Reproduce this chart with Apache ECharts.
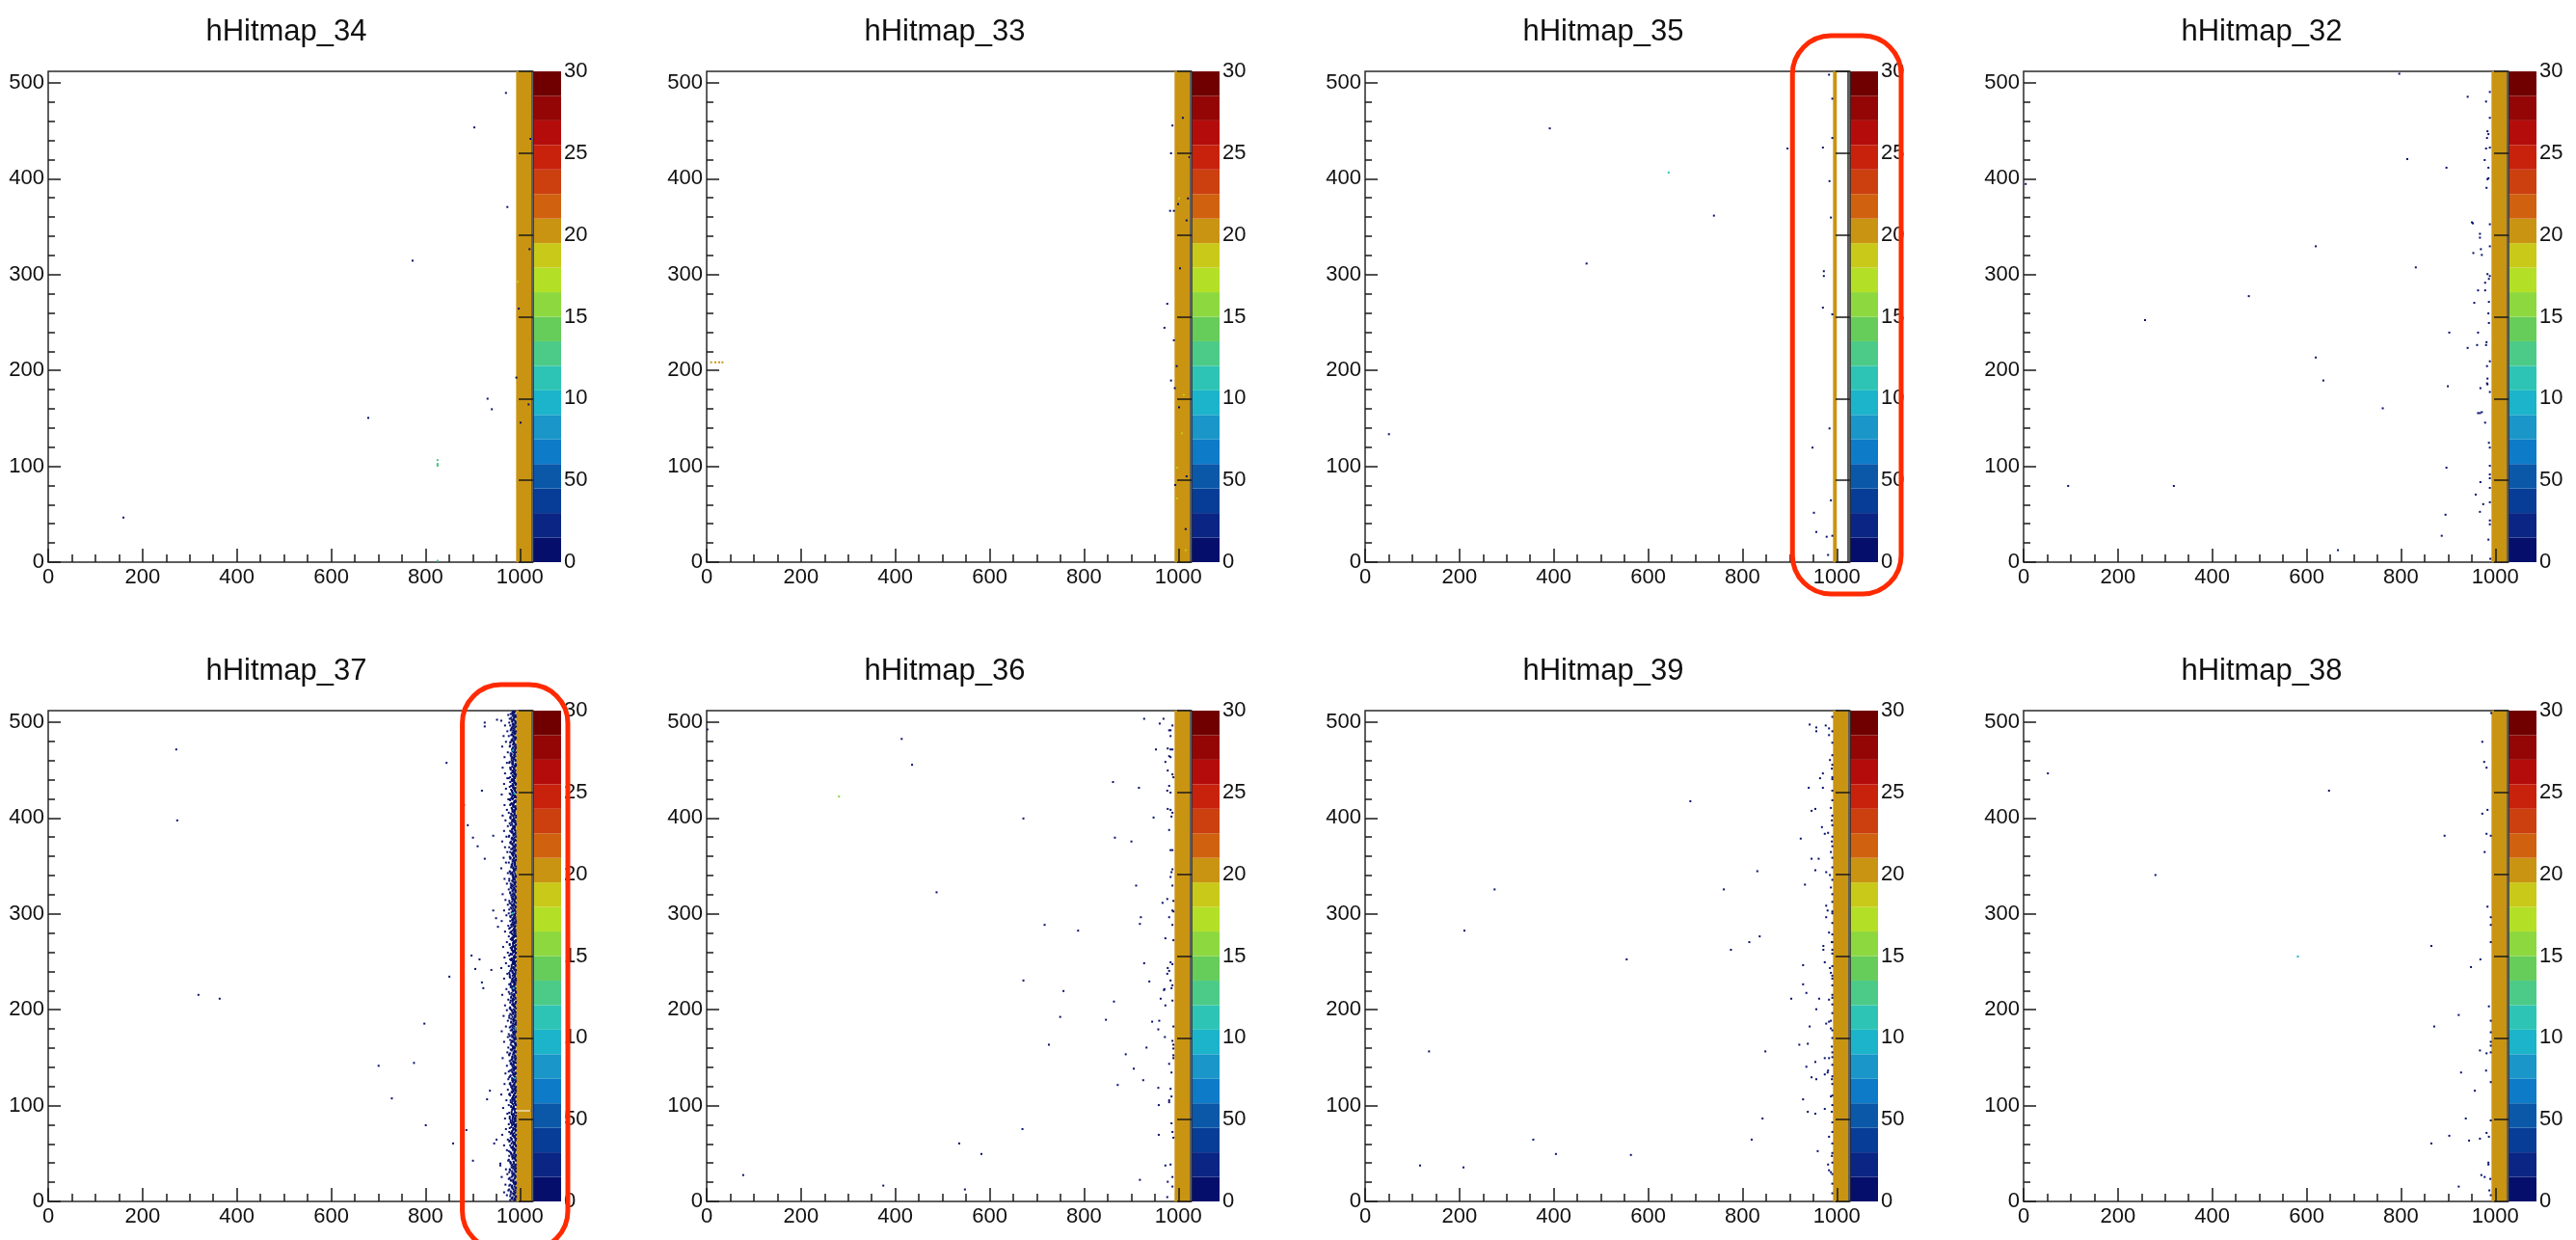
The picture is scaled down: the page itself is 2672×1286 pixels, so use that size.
<!DOCTYPE html>
<html><head><meta charset="utf-8">
<script src="https://cdn.jsdelivr.net/npm/echarts@6/dist/echarts.min.js"></script>
<style>html,body{margin:0;padding:0;background:#fff;}#c{width:2672px;height:1286px;}</style>
</head><body><div id="c"></div>
<script>
// ---------- data ----------
const titles = ['hHitmap_34','hHitmap_33','hHitmap_35','hHitmap_32','hHitmap_37','hHitmap_36','hHitmap_39','hHitmap_38'];
// 20-level palette, lowest bin first
const palette = ['#050f6b','#0a2583','#083d97','#0b58a9','#0e7bc8','#1a96c8','#1cb4ca','#2ec4b5','#4ccb88','#66cc5a',
                 '#8ed83f','#b3e027','#c9c91a','#c99412','#d0620f','#cc4010','#c8220c','#b40c0b','#940606','#700000'];
const zLevels = [0,15,30,45,60,75,90,105,120,135,150,165,180,195,210,225,240,255,270,285,300];
const colorbarTicks = [0,50,100,150,200,250,300];
const xMajorTicks = [0,200,400,600,800,1000];
const xMinorTicks = [50,100,150,250,300,350,450,500,550,650,700,750,850,900,950];
const yMajorTicks = [0,100,200,300,400,500];
const yMinorTicks = [20,40,60,80,120,140,160,180,220,240,260,280,320,340,360,380,420,440,460,480];
const xRange = [0,1024], yRange = [0,512];

// saturated columns: [x0, x1, y0, y1, counts]
const bands34 = [[992,1024,0,512,200]];
const bands33 = [[992,1024,0,512,200]];
const bands35 = [[992,1000,0,512,200]];
const bands32 = [[992,1024,0,512,200]];
const bands37 = [[992,1024,0,94,200],[992,1024,95,512,200]];
const bands36 = [[992,1024,0,512,200]];
const bands39 = [[992,1024,0,512,200]];
const bands38 = [[992,1024,0,512,200]];

// single hits [x, y] (1 count)
const dots34 = [[970,489],[903,453],[1022,441],[973,370],[772,314],[1020,326],[997,264],[992,192],[931,170],[940,159],[1018,164],[678,150],[1001,145],[159,46]];
const dots33 = [[1009,463],[987,455],[984,426],[1023,422],[1020,379],[982,366],[990,366],[999,373],[1017,356],[1003,306],[976,269],[970,244],[990,231],[996,204],[984,189],[992,181],[1001,161],[1017,89],[993,80],[1015,34]];
const dots35 = [[391,452],[739,361],[469,311],[50,133],[895,431],[970,432],[983,508],[990,483],[990,442],[984,397],[987,359],[972,303],[972,298],[970,265],[990,258],[984,139],[948,119],[987,64],[951,51],[956,31],[978,26],[990,27],[981,7]];
const dots32 = [[796,509],[941,485],[980,480],[988,490],[988,463],[983,449],[982,442],[985,446],[988,432],[980,431],[977,419],[813,420],[896,411],[985,411],[983,399],[985,400],[981,390],[4,394],[950,354],[952,353],[988,352],[967,342],[967,338],[988,329],[619,329],[969,326],[971,320],[953,322],[831,307],[983,300],[986,295],[988,298],[978,291],[963,283],[978,283],[477,277],[955,270],[986,271],[985,259],[986,249],[257,252],[902,239],[963,239],[941,223],[961,226],[981,229],[980,226],[619,213],[988,209],[982,204],[635,189],[983,191],[982,186],[983,185],[899,183],[968,181],[988,177],[761,160],[963,155],[971,156],[967,155],[978,145],[986,124],[988,119],[896,98],[988,100],[988,91],[988,87],[94,79],[318,79],[968,83],[988,77],[958,70],[988,62],[974,60],[967,52],[894,49],[988,43],[988,39],[886,27],[985,23],[666,12],[989,3]];
const dots37 = [[271,471],[273,397],[318,215],[363,211],[844,457],[925,499],[925,495],[951,502],[879,426],[919,428],[881,413],[889,392],[900,379],[943,381],[910,370],[925,357],[943,303],[949,295],[953,286],[897,256],[914,252],[905,242],[939,241],[850,234],[919,228],[922,222],[797,185],[700,141],[775,144],[728,107],[936,115],[930,106],[800,79],[886,74],[858,60],[945,60],[950,64],[900,42],[958,37]];
// dense hit cloud of hHitmap_37 next to the column: [y, x, x, ...]
const cloud37 = [
[1,987,979,990],[4,984,991],[6,972,988],[9,990,981,966],[12,986,977],[14,991,983],[17,979,989,969],[20,985,990],[23,976,988],[25,990,982,961],
[28,987,973],[31,983,991],[33,989,978,970],[36,985,990],[39,980,987,958],[42,991,975],[44,984,989],[47,977,986,990],[50,988,981],[53,990,972,985],
[55,983,987],[58,979,991,966],[61,986,989],[64,974,990,982],[66,988,980],[69,991,985,962],[72,983,977],[75,989,987,970],[77,981,990],[80,986,976,991],
[83,990,984],[86,978,988,968],[89,985,991],[91,982,987,973],[97,987,984,964],[100,991,976],[102,983,989],[105,988,980,971],[108,985,990],[111,977,987,960],
[113,990,983],[116,986,974,989],[119,981,991],[122,988,978,967],[124,984,990],[127,990,986,975],[130,979,988],[133,987,991,969],[135,983,976],[138,990,985,989],
[141,972,987],[144,988,981,991],[146,985,978],[149,991,984,963],[152,977,989],[155,986,990,973],[157,982,988],[160,989,975,985],[163,991,980],[166,984,987,966],
[168,988,979],[171,990,983,974],[174,976,986],[177,987,991,961],[179,983,989],[182,980,988,970],[185,990,985],[188,974,987,991],[190,986,981],[193,989,977,965],
[196,984,990],[199,988,982,972],[201,991,978],[204,985,987,968],[207,979,990],[210,987,984,975],[212,990,981],[215,983,988,962],[218,976,991],[221,989,985,971],
[223,986,980],[226,990,977,988],[229,982,987],[232,991,984,966],[234,978,989],[237,987,990,973],[240,983,979],[243,988,985,960],[245,990,976],[248,984,989,970],
[251,981,987],[254,990,986,967],[256,977,988],[259,985,991,974],[262,989,982],[265,983,987,964],[267,991,978],[270,986,990,972],[273,980,985],[276,988,976,991],
[278,984,989],[281,990,981,968],[284,977,987],[287,986,990,975],[289,983,988],[292,991,979,961],[295,985,987],[298,989,982,971],[300,976,990],[303,988,984,966],
[306,990,980],[309,983,987,974],[311,978,991],[314,987,985,969],[317,990,982],[320,984,988,963],[322,979,990],[325,986,976,989],[328,991,983],[331,988,980,972],
[333,985,990],[336,977,987,967],[339,990,984],[342,982,989,974],[344,987,978],[347,991,985,960],[350,983,988],[353,989,976,970],[355,986,990],[358,980,987,965],
[361,990,984],[364,985,979,973],[366,988,991],[369,977,986,968],[372,990,983],[375,987,981,962],[377,984,989],[380,991,976,971],[383,986,988],[386,979,990,966],
[388,988,983],[391,985,987,974],[394,990,978],[397,983,989,969],[399,987,980],[402,991,985,963],[405,976,988],[408,989,984,972],[410,982,990],[413,986,979,967],
[416,990,987],[419,984,977,975],[421,988,991],[424,980,985,961],[427,990,983],[430,987,989,970],[432,978,986],[435,991,984,966],[438,983,988],[441,989,976,973],
[443,985,990],[446,981,987,968],[449,990,984],[452,986,979,963],[454,988,991],[457,977,985,972],[460,990,982],[463,984,988,967],[465,987,980],[468,991,986,974],
[471,983,989],[474,988,978,962],[476,985,990],[479,980,987,970],[482,990,984],[485,986,976,965],[487,989,983],[490,991,988,973],[493,982,986],[496,987,979,968],
[498,990,985],[501,984,989,960],[504,988,981],[507,990,986,975],[509,983,987],
[2,983,989],[7,986,980],[11,990,975],[15,982,988],[19,987,991],[22,980,985],[27,989,984],[30,977,990],[35,988,982],[38,984,991],
[41,986,979],[46,990,983],[49,981,987],[52,989,976],[57,985,991],[60,982,988],[63,990,978],[68,984,987],[71,988,981],[74,991,985],
[79,983,989],[82,987,980],[85,990,984],[88,978,986],[93,989,982],[96,985,990],[99,981,987],[104,990,984],[107,983,988],[110,987,979],
[115,991,985],[118,984,989],[121,980,986],[126,988,983],[129,990,977],[132,985,989],[137,982,987],[140,990,984],[143,986,980],[148,989,983],
[151,984,990],[154,979,987],[159,988,985],[162,983,991],[165,990,981],[170,986,988],[173,982,989],[176,990,985],[181,984,978],[184,988,991],
[187,981,986],[192,990,984],[195,986,979],[198,983,989],[203,989,987],[206,985,990],[209,980,984],[214,988,986],[217,991,982],[220,984,988],
[225,987,980],[228,990,985],[231,983,989],[236,986,978],[239,990,984],[242,981,987],[247,989,985],[250,985,991],[253,982,988],[258,990,980],
[261,986,984],[264,980,989],[269,988,985],[272,991,983],[275,984,987],[280,987,979],[283,990,986],[286,982,989],[291,988,984],[294,984,990],
[297,979,987],[302,990,985],[305,986,982],[308,983,989],[313,989,977],[316,985,991],[319,981,988],[324,990,984],[327,987,980],[330,983,989],
[335,989,985],[338,986,991],[341,980,984],[346,988,987],[349,991,982],[352,984,989],[357,987,979],[360,990,985],[363,982,988],[368,989,984],
[371,985,990],[374,979,987],[379,988,983],[382,990,986],[385,984,981],[390,987,989],[393,983,991],[396,990,985],[401,986,980],[404,981,988],
[407,989,984],[412,985,990],[415,982,987],[418,990,979],[423,986,989],[426,984,991],[429,988,981],[434,990,985],[437,979,987],[440,987,983],
[445,991,989],[448,984,986],[451,988,980],[456,983,990],[459,990,985],[462,986,982],[467,980,988],[470,989,984],[473,985,991],[478,987,979],
[481,982,989],[484,990,986],[489,984,988],[492,988,981],[495,991,985],[500,983,990],[503,986,978],[506,989,984],[510,985,988],
[3,988,982],[5,991,979],[8,985,989],[10,980,987],[13,990,984],[16,983,977],[18,987,991],[21,981,986],[24,989,978],[26,984,990],
[29,986,983],[32,979,988],[34,991,985],[37,982,989],[40,987,980],[43,990,976],[45,985,988],[48,983,991],[51,988,979],[54,986,990],
[56,981,984],[59,989,987],[62,984,977],[65,991,982],[67,987,989],[70,980,985],[73,990,983],[76,985,978],[78,988,991],[81,982,986],
[84,989,980],[87,984,990],[90,987,983],[92,991,977],[95,983,988],[98,986,981],[101,990,985],[103,980,989],[106,987,984],[109,985,991],
[112,989,978],[114,982,986],[117,990,983],[120,984,988],[123,988,979],[125,991,985],[128,983,989],[131,986,980],[134,990,984],[136,979,987],
[139,987,991],[142,984,982],[145,989,986],[147,981,990],[150,988,983],[153,985,977],[156,991,988],[158,983,980],[161,987,985],[164,990,989],
[167,982,984],[169,988,991],[172,985,978],[175,989,986],[178,980,983],[180,987,990],[183,983,985],[186,991,981],[189,985,988],[191,988,977],
[194,982,990],[197,990,986],[200,986,980],[202,979,989],[205,988,983],[208,984,991],[211,990,985],[213,981,987],[216,987,978],[219,985,990],
[222,990,983],[224,983,988],[227,988,980],[230,985,991],[233,979,986],[235,989,984],[238,984,977],[241,991,988],[244,986,982],[246,982,990],
[249,988,985],[252,984,979],[255,990,987],[257,980,983],[260,987,989],[263,983,991],[266,989,985],[268,985,978],[271,990,987],[274,982,984],
[277,986,990],[279,990,982],[282,984,988],[285,988,979],[288,981,985],[290,987,991],[293,983,986],[296,990,980],[299,985,989],[301,982,984],
[304,989,977],[307,985,991],[310,980,987],[312,988,983],[315,983,989],[318,990,985],[321,986,979],[323,984,990],[326,988,982],[329,981,986],
[332,990,988],[334,983,977],[337,988,985],[340,985,990],[343,979,984],[345,990,987],[348,986,981],[351,982,989],[354,988,984],[356,984,991],
[359,991,978],[362,983,986],[365,987,990],[367,981,984],[370,990,988],[373,984,980],[376,988,991],[378,982,985],[381,986,977],[384,990,983],
[387,983,989],[389,987,985],[392,980,990],[395,988,982],[398,985,987],[400,991,979],[403,982,988],[406,987,984],[409,983,991],[411,989,986],
[414,984,980],[417,988,990],[420,981,985],[422,990,983],[425,986,978],[428,983,989],[431,990,985],[433,985,981],[436,988,990],[439,982,986],
[442,987,979],[444,990,984],[447,984,989],[450,980,987],[453,989,983],[455,985,991],[458,983,978],[461,988,986],[464,990,981],[466,982,989],
[469,987,984],[472,984,990],[475,990,979],[477,986,988],[480,983,985],[483,988,991],[486,981,984],[488,990,987],[491,985,980],[494,983,989],
[497,988,984],[499,990,977],[502,982,986],[505,987,991],[508,984,980],[511,989,985]];
const dots36 = [[927,503],[968,503],[960,498],[987,496],[980,491],[983,491],[983,485],[413,482],[952,471],[977,472],[983,471],[987,471],[980,464],[983,463],[972,458],[435,455],[977,449],[987,445],[989,442],[861,437],[916,431],[980,433],[976,428],[983,426],[977,409],[983,408],[987,405],[985,401],[671,399],[947,400],[980,387],[865,379],[900,375],[983,366],[987,366],[987,346],[985,343],[983,338],[910,329],[987,329],[487,322],[976,315],[966,311],[989,313],[987,303],[989,302],[920,296],[918,289],[980,296],[716,288],[787,282],[987,288],[972,274],[989,272],[927,248],[983,249],[977,243],[980,240],[976,237],[987,247],[938,229],[671,230],[983,230],[987,225],[985,222],[970,221],[969,220],[756,219],[962,211],[863,208],[987,209],[972,204],[749,192],[846,189],[944,187],[959,188],[957,179],[989,182],[971,171],[987,167],[989,163],[989,159],[725,163],[932,160],[888,153],[989,152],[989,149],[980,143],[905,138],[985,134],[925,126],[871,121],[957,118],[983,117],[985,109],[980,105],[980,103],[958,100],[985,81],[987,72],[989,66],[958,69],[669,75],[535,60],[582,49],[972,37],[983,38],[77,27],[918,22],[987,25],[374,16],[977,20],[987,15],[547,12],[976,4],[1,492]];
const dots39 = [[942,497],[956,494],[956,490],[976,496],[983,493],[983,486],[985,460],[989,451],[990,442],[964,441],[970,446],[940,431],[970,431],[689,417],[946,407],[954,409],[987,410],[989,397],[968,390],[974,383],[981,384],[923,378],[989,375],[987,364],[946,357],[961,357],[954,345],[831,344],[977,343],[985,340],[987,327],[932,330],[274,325],[760,325],[977,308],[980,303],[990,302],[977,296],[210,282],[836,276],[983,280],[989,270],[990,262],[814,270],[971,266],[971,262],[775,262],[554,252],[974,249],[985,243],[987,238],[928,246],[990,232],[928,226],[935,217],[990,215],[990,212],[903,211],[962,211],[983,210],[956,200],[977,185],[983,187],[987,188],[987,180],[942,182],[920,163],[938,164],[989,161],[990,155],[135,156],[848,156],[974,149],[983,149],[954,145],[935,140],[981,136],[980,134],[974,132],[946,129],[956,127],[989,127],[928,106],[987,109],[974,96],[989,93],[938,93],[954,91],[842,86],[983,67],[819,64],[356,64],[959,52],[404,49],[563,48],[989,47],[116,37],[208,35],[981,38],[983,32],[987,30],
[990,505],[990,490],[990,478],[990,465],[990,455],[990,440],[990,428],[990,418],[990,402],[990,392],[990,380],[990,370],[990,358],[990,348],[990,335],[990,320],[990,312],[990,300],[990,290],[990,278],[990,270],[990,258],[990,245],[990,235],[990,225],[990,205],[990,196],[990,178],[990,170],[990,150],[990,142],[990,130],[990,122],[990,110],[990,100],[990,82],[990,72],[990,60],[990,50],[990,40],[990,28],[990,18],[990,8]];
const dots38 = [[991,509],[972,479],[976,458],[981,452],[51,446],[647,428],[983,408],[972,404],[892,381],[981,383],[990,381],[977,364],[279,340],[983,307],[990,296],[990,288],[990,270],[864,266],[968,252],[948,244],[986,203],[922,194],[990,188],[990,176],[870,182],[990,166],[990,162],[990,155],[967,157],[981,154],[927,134],[980,136],[990,124],[956,115],[937,86],[990,84],[902,68],[981,71],[986,67],[967,65],[944,63],[864,60],[985,40],[985,38],[970,27],[977,25],[989,23],[922,15],[987,11],[990,6]];

// hits with more counts [x, y, counts]
const multi34 = [[995,292,185],[825,106,125],[825,102,125],[825,101,125],[825,100,125],[825,1,125]];
const multi33 = [[1001,379,185],[1011,174,185],[1007,134,185],[997,98,185],[997,66,185],[1015,12,185],[9,208,205],[18,208,205],[26,208,205],[33,208,205]];
const multi35 = [[643,406,105]];
const multi32 = [];
const multi37 = [[985,470,95],[988,425,100],[986,222,110],[990,180,95],[984,300,105],[989,128,90]];
const multi36 = [[280,422,160]];
const multi39 = [];
const multi38 = [[581,255,100]];

// ---------- layout ----------
const colLeft = [50, 733, 1416, 2099];
const rowTop = [74, 737];
const plotW = 501, plotH = 509, cbOffset = 503, cbW = 29;
const FONT = "'Liberation Sans', Arial, Helvetica, sans-serif";
const LABEL_SIZE = 22;

const panels = [
  {bands: bands34, dots: dots34, multi: multi34},
  {bands: bands33, dots: dots33, multi: multi33},
  {bands: bands35, dots: dots35, multi: multi35},
  {bands: bands32, dots: dots32, multi: multi32},
  {bands: bands37, dots: dots37.concat(cloud37.flatMap(r => r.slice(1).map(x => [x, r[0]]))), multi: multi37},
  {bands: bands36, dots: dots36, multi: multi36},
  {bands: bands39, dots: dots39, multi: multi39},
  {bands: bands38, dots: dots38, multi: multi38}
];

function colorOf(v) {
  for (let k = 0; k < palette.length; k++) {
    if (v < zLevels[k + 1]) return palette[k];
  }
  return palette[palette.length - 1];
}

function renderCell(params, api) {
  const x0 = api.value(0), y0 = api.value(1), x1 = api.value(2), y1 = api.value(3), v = api.value(4);
  const tl = api.coord([x0, y1]);
  const br = api.coord([x1, y0]);
  let x = tl[0], y = tl[1], w = br[0] - tl[0], h = br[1] - tl[1];
  if (w < 2) { x -= (2 - w) / 2; w = 2; }
  if (h < 2) { y -= (2 - h) / 2; h = 2; }
  return { type: 'rect', shape: { x, y, width: w, height: h }, style: { fill: colorOf(v) } };
}

const plain = v => String(v);
const grid = [], xAxis = [], yAxis = [], series = [], title = [];
const tickColor = '#1a1a1a';

panels.forEach((p, i) => {
  const left = colLeft[i % 4], top = rowTop[Math.floor(i / 4)];
  grid.push({ left, top, width: plotW, height: plotH, show: true, backgroundColor: '#fff',
              borderColor: '#2a2a2a', borderWidth: 1.5, containLabel: false, outerBoundsMode: 'none' });
  title.push({ text: titles[i], left: left + 242, top: top - 61, textAlign: 'center',
               textStyle: { fontSize: 31, fontWeight: 'normal', color: '#111', fontFamily: FONT } });
  const baseX = { gridIndex: i, type: 'value', min: xRange[0], max: xRange[1], position: 'bottom',
                  axisLine: { show: false }, splitLine: { show: false }, z: 5 };
  const baseY = { gridIndex: i, type: 'value', min: yRange[0], max: yRange[1], position: 'left',
                  axisLine: { show: false }, splitLine: { show: false }, z: 5 };
  xAxis.push(Object.assign({}, baseX, {
    axisTick: { show: true, inside: true, length: 14, customValues: xMajorTicks, lineStyle: { color: tickColor, width: 1.5 } },
    axisLabel: { show: true, customValues: xMajorTicks, formatter: plain, fontSize: LABEL_SIZE, color: '#111', margin: 5, fontFamily: FONT }
  }));
  xAxis.push(Object.assign({}, baseX, {
    axisTick: { show: true, inside: true, length: 8, customValues: xMinorTicks, lineStyle: { color: tickColor, width: 1.5 } },
    axisLabel: { show: false }
  }));
  yAxis.push(Object.assign({}, baseY, {
    axisTick: { show: true, inside: true, length: 13, customValues: yMajorTicks, lineStyle: { color: tickColor, width: 1.5 } },
    axisLabel: { show: true, customValues: yMajorTicks, formatter: plain, fontSize: LABEL_SIZE, color: '#111', margin: 4, fontFamily: FONT }
  }));
  yAxis.push(Object.assign({}, baseY, {
    axisTick: { show: true, inside: true, length: 7, customValues: yMinorTicks, lineStyle: { color: tickColor, width: 1.5 } },
    axisLabel: { show: false }
  }));
  const data = []
    .concat(p.bands.map(b => [b[0], b[2], b[1], b[3], b[4]]))
    .concat(p.dots.map(d => [d[0], d[1], d[0] + 1, d[1] + 1, 1]))
    .concat(p.multi.map(d => [d[0], d[1], d[0] + 1, d[1] + 1, d[2]]));
  series.push({ type: 'custom', name: titles[i], coordinateSystem: 'cartesian2d',
                xAxisIndex: 2 * i, yAxisIndex: 2 * i, renderItem: renderCell, data,
                encode: { x: [0, 2], y: [1, 3] }, clip: true, silent: true, animation: false, z: 2 });
});

// colour bars
panels.forEach((p, i) => {
  const left = colLeft[i % 4] + cbOffset, top = rowTop[Math.floor(i / 4)];
  const gi = 8 + i;
  grid.push({ left, top, width: cbW, height: plotH, show: false, containLabel: false, outerBoundsMode: 'none' });
  xAxis.push({ gridIndex: gi, type: 'value', min: 0, max: 1, show: false });
  yAxis.push({ gridIndex: gi, type: 'value', min: zLevels[0], max: zLevels[zLevels.length - 1], position: 'right',
               axisLine: { show: true, lineStyle: { color: '#2a2a2a', width: 1.5 } },
               axisTick: { show: true, inside: true, length: 15, customValues: colorbarTicks, lineStyle: { color: tickColor, width: 1.5 } },
               axisLabel: { show: true, customValues: colorbarTicks, formatter: plain, fontSize: LABEL_SIZE, color: '#111', margin: 3, fontFamily: FONT,
                            width: 30, overflow: 'truncate', ellipsis: '' },
               splitLine: { show: false }, z: 5 });
  const data = palette.map((c, k) => [0, zLevels[k], 1, zLevels[k + 1], (zLevels[k] + zLevels[k + 1]) / 2]);
  series.push({ type: 'custom', coordinateSystem: 'cartesian2d', xAxisIndex: 16 + i, yAxisIndex: 16 + i,
                renderItem: renderCell, data, encode: { x: [0, 2], y: [1, 3] }, silent: true, animation: false, z: 2 });
});

const chart = echarts.init(document.getElementById('c'), null, { renderer: 'canvas', width: 2672, height: 1286 });
chart.setOption({
  backgroundColor: '#fff',
  animation: false,
  textStyle: { fontFamily: FONT },
  title, grid, xAxis, yAxis, series
});

// red highlight boxes: [panel index, left edge in x units, right pad px from colour bar, top pad px, bottom pad px]
const highlights = [[2, 906, 24, 37, 33], [4, 878, 7, 27, 50]];
const graphic = highlights.map(h => {
  const i = h[0];
  const leftPx = chart.convertToPixel({ xAxisIndex: 2 * i, yAxisIndex: 2 * i }, [h[1], 0])[0];
  const top = rowTop[Math.floor(i / 4)];
  const cbRight = colLeft[i % 4] + cbOffset + cbW;
  return { type: 'rect', z: 100, silent: true,
           shape: { x: leftPx, y: top - h[3], width: cbRight + h[2] - leftPx, height: plotH + h[3] + h[4], r: 40 },
           style: { fill: 'none', stroke: '#ff2a00', lineWidth: 5 } };
});
chart.setOption({ graphic });
</script></body></html>
